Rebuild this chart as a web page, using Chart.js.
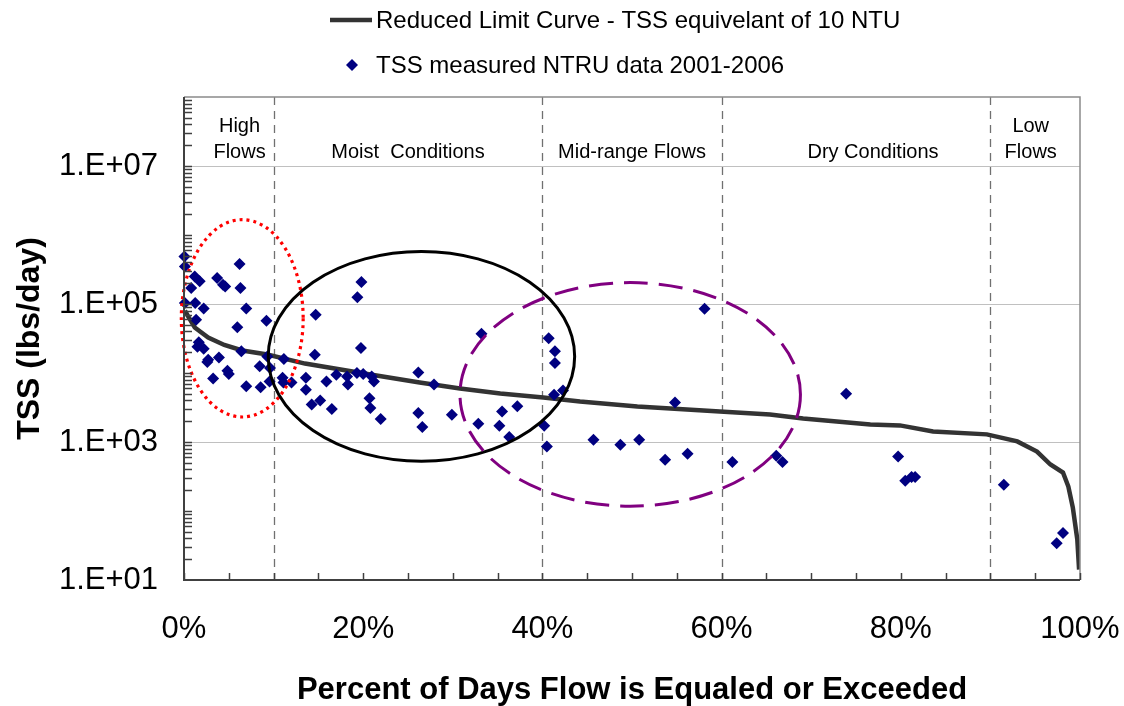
<!DOCTYPE html>
<html>
<head>
<meta charset="utf-8">
<script src="https://cdn.jsdelivr.net/npm/chart.js@4.4.1/dist/chart.umd.min.js"></script>
<style>
  html, body { margin: 0; padding: 0; background: #fff; }
</style>
</head>
<body>
<canvas id="tssChart" width="1124" height="706"></canvas>
<script>
// measured TSS loads (percent of days, lbs/day)
const MEASURED_PCT = [
  0.05, 0.1, 1.2, 1.75, 0.8, 3.7, 4.35, 4.6, 6.2, 6.3,
  0.1, 1.25, 2.2, 6.95, 1.35, 9.2, 5.95, 1.65, 1.5, 2.2,
  2.7, 2.6, 3.9, 6.4, 8.45, 4.85, 5.0, 3.25, 6.95, 8.55,
  9.3, 9.55, 9.6, 11.15, 11.0, 11.1, 12.0, 14.6, 13.6, 13.6,
  15.9, 17.0, 18.2, 18.3, 19.3, 20.0, 20.95, 21.2, 19.75, 14.25,
  15.2, 16.5, 20.7, 20.8, 21.95, 19.8, 19.35, 14.7, 26.15, 26.15,
  26.6, 33.2, 27.9, 29.9, 32.85, 35.5, 35.2, 37.2, 36.3, 40.7,
  41.4, 41.4, 41.3, 42.3, 40.2, 40.5, 58.1, 54.8, 45.7, 48.7,
  50.8, 53.7, 56.2, 61.2, 66.1, 66.8, 73.9, 79.7, 80.5, 81.2,
  81.6, 91.5, 98.1, 97.4
];
const MEASURED_TSS = [
  490000, 350000, 250000, 213000, 171000, 238000, 190000, 180000, 380000, 171000,
  103000, 103000, 86000, 86000, 59000, 57000, 46000, 28000, 24000, 22500,
  15600, 14400, 16800, 20600, 12500, 10800, 9700, 8300, 6400, 6200,
  17400, 7500, 11800, 16000, 8500, 7300, 7300, 18400, 8500, 5700,
  7500, 9400, 8900, 6800, 10000, 9700, 8900, 7500, 23000, 3500,
  4000, 3000, 4300, 3100, 2150, 208000, 125000, 70000, 10200, 2630,
  1650, 37000, 6800, 2490, 1840, 2770, 1720, 3300, 1180, 32000,
  20600, 14000, 4850, 5600, 1720, 863, 85000, 3750, 1080, 914,
  1080, 553, 676, 513, 632, 513, 5000, 618, 275, 311,
  311, 240, 48, 34
];

// reduced limit curve
const CURVE_PCT = [0.1, 0.5, 1.2, 2.7, 4.5, 6.5, 9.3, 13.5, 20.8, 26.3, 30.8, 35.3, 40.1, 44.2, 50.6,
  59.8, 65.4, 69.1, 76.6, 79.9, 83.6, 89.6, 93.0, 95.2, 96.7, 98.1, 98.7, 99.2, 99.7, 99.9];
const CURVE_TSS = [80000, 65000, 45600, 32700, 25500, 21200, 18500, 13700, 9500, 7300, 5960, 5050, 4420, 3860, 3270,
  2770, 2500, 2190, 1800, 1740, 1420, 1290, 1020, 728, 472, 361, 226, 112, 38.6, 14.2];

const X_TICKS = [0, 5, 10, 15, 20, 25, 30, 35, 40, 45, 50, 55, 60, 65, 70, 75, 80, 85, 90, 95, 100];
const X_LABELED = [0, 20, 40, 60, 80, 100];
const Y_TICKS = [1e1, 1e3, 1e5, 1e7];

// flow regimes
const REGION_BOUNDS = [10, 40, 60, 90];
const REGION_NAMES = [['High', 'Flows'], ['Moist  Conditions'], ['Mid-range Flows'], ['Dry Conditions'], ['Low', 'Flows']];
const REGION_CENTERS = [6.2, 25, 50, 76.9, 94.5];

// highlighted groups: centre (pct, lbs/day), half width (pct), half height (decades)
const GROUP_CENTER_PCT = [6.5, 26.5, 49.8];
const GROUP_CENTER_TSS = [62000, 17400, 4900];
const GROUP_HALF_PCT = [6.8, 17.1, 19.0];
const GROUP_HALF_DECADES = [1.43, 1.52, 1.62];

const FONT = "'Liberation Sans', Arial, sans-serif";

const expLabel = v => {
  const e = Math.round(Math.log10(v));
  return '1.E+' + String(e).padStart(2, '0');
};

const decorations = {
  id: 'decorations',
  beforeDraw(chart) {
    const ctx = chart.ctx;
    ctx.save();
    ctx.fillStyle = '#fff';
    ctx.fillRect(0, 0, chart.width, chart.height);
    ctx.restore();
  },
  beforeDatasetsDraw(chart) {
    const {ctx, chartArea: a, scales: {x}} = chart;
    ctx.save();
    // regime boundaries
    ctx.strokeStyle = '#707070';
    ctx.lineWidth = 1.3;
    ctx.setLineDash([8, 6]);
    REGION_BOUNDS.forEach(b => {
      const px = Math.round(x.getPixelForValue(b)) + 0.5;
      ctx.beginPath();
      ctx.moveTo(px, a.top);
      ctx.lineTo(px, a.bottom);
      ctx.stroke();
    });
    ctx.setLineDash([]);
    // regime names
    ctx.fillStyle = '#000';
    ctx.font = '20px ' + FONT;
    ctx.textAlign = 'center';
    ctx.textBaseline = 'middle';
    REGION_NAMES.forEach((lines, i) => {
      const cx = x.getPixelForValue(REGION_CENTERS[i]);
      lines.forEach((t, j) => {
        const ty = 152 - (lines.length - 1 - j) * 26;
        ctx.fillText(t, cx, ty);
      });
    });
    ctx.restore();
  },
  afterDatasetsDraw(chart) {
    const {ctx, chartArea: a, scales: {x, y}} = chart;
    ctx.save();
    // ellipses round the groups
    const styles = [
      {color: '#ff0000', dash: [3, 4], width: 3.2},
      {color: '#000000', dash: [], width: 3},
      {color: '#800080', dash: [24, 11], width: 3}
    ];
    GROUP_CENTER_PCT.forEach((cp, i) => {
      const cx = x.getPixelForValue(cp);
      const cy = y.getPixelForValue(GROUP_CENTER_TSS[i]);
      const rx = x.getPixelForValue(cp + GROUP_HALF_PCT[i]) - cx;
      const ry = cy - y.getPixelForValue(GROUP_CENTER_TSS[i] * Math.pow(10, GROUP_HALF_DECADES[i]));
      ctx.strokeStyle = styles[i].color;
      ctx.lineWidth = styles[i].width;
      ctx.setLineDash(styles[i].dash);
      ctx.beginPath();
      ctx.ellipse(cx, cy, rx, ry, 0, 0, Math.PI * 2);
      ctx.stroke();
    });
    ctx.setLineDash([]);

    // frame
    ctx.strokeStyle = '#8a8a8a';
    ctx.lineWidth = 1.5;
    ctx.beginPath();
    ctx.moveTo(a.left, a.top);
    ctx.lineTo(a.right, a.top);
    ctx.lineTo(a.right, a.bottom);
    ctx.stroke();
    ctx.strokeStyle = '#404040';
    ctx.lineWidth = 2;
    ctx.beginPath();
    ctx.moveTo(a.left, a.top);
    ctx.lineTo(a.left, a.bottom);
    ctx.lineTo(a.right, a.bottom);
    ctx.stroke();

    // inward tick marks
    ctx.lineWidth = 1.5;
    X_TICKS.forEach(v => {
      const px = Math.round(x.getPixelForValue(v)) + 0.5;
      ctx.beginPath();
      ctx.moveTo(px, a.bottom);
      ctx.lineTo(px, a.bottom - 7);
      ctx.stroke();
    });
    for (let d = 1; d < 8; d++) {
      for (let m = 1; m < 10; m++) {
        const v = m * Math.pow(10, d);
        if (v <= y.min || v >= y.max) continue;
        const py = Math.round(y.getPixelForValue(v)) + 0.5;
        ctx.beginPath();
        ctx.moveTo(a.left, py);
        ctx.lineTo(a.left + 8, py);
        ctx.stroke();
      }
    }
    ctx.restore();
  },
  afterDraw(chart) {
    // legend, two rows left aligned
    const ctx = chart.ctx;
    const ds = chart.data.datasets;
    ctx.save();
    ctx.font = '24px ' + FONT;
    ctx.fillStyle = '#000';
    ctx.textAlign = 'left';
    ctx.textBaseline = 'middle';
    // line sample
    ctx.strokeStyle = ds[0].borderColor;
    ctx.lineWidth = 4.5;
    ctx.beginPath();
    ctx.moveTo(330, 20);
    ctx.lineTo(372, 20);
    ctx.stroke();
    ctx.fillText(ds[0].label, 376, 21);
    // marker sample
    ctx.fillStyle = ds[1].backgroundColor;
    ctx.beginPath();
    ctx.moveTo(352, 59);
    ctx.lineTo(358, 65);
    ctx.lineTo(352, 71);
    ctx.lineTo(346, 65);
    ctx.closePath();
    ctx.fill();
    ctx.fillStyle = '#000';
    ctx.fillText(ds[1].label, 376, 66);
    ctx.restore();
  }
};

const curveData = CURVE_PCT.map((p, i) => ({x: p, y: CURVE_TSS[i]}));
const measuredData = MEASURED_PCT.map((p, i) => ({x: p, y: MEASURED_TSS[i]}));

new Chart(document.getElementById('tssChart').getContext('2d'), {
  type: 'scatter',
  data: {
    datasets: [
      {
        label: 'Reduced Limit Curve - TSS equivelant of 10 NTU',
        data: curveData,
        showLine: true,
        borderColor: '#333333',
        borderWidth: 4.5,
        pointRadius: 0,
        tension: 0,
        order: 2
      },
      {
        label: 'TSS measured NTRU data 2001-2006',
        data: measuredData,
        pointStyle: 'rectRot',
        pointRadius: 6,
        backgroundColor: '#000080',
        borderColor: '#000080',
        borderWidth: 0,
        clip: false,
        order: 1
      }
    ]
  },
  options: {
    responsive: false,
    animation: false,
    layout: {padding: {top: 97, right: 44, left: 0, bottom: 0}},
    plugins: {legend: {display: false}, tooltip: {enabled: false}},
    scales: {
      x: {
        type: 'linear',
        min: 0,
        max: 100,
        afterFit: s => {
          s.height = 126;
          s.paddingLeft = 0;
          s.paddingRight = 0;
        },
        afterBuildTicks: s => { s.ticks = X_LABELED.map(v => ({value: v})); },
        ticks: {
          callback: v => v + '%',
          font: {family: FONT, size: 31},
          color: '#000',
          padding: 31,
          maxRotation: 0,
          autoSkip: false
        },
        grid: {display: false, drawTicks: false},
        border: {display: false},
        title: {
          display: true,
          text: 'Percent of Days Flow is Equaled or Exceeded',
          font: {family: FONT, size: 31, weight: 'bold', lineHeight: 1},
          color: '#000',
          padding: 0
        }
      },
      y: {
        type: 'logarithmic',
        min: 10,
        max: 1e8,
        afterFit: s => {
          s.width = 184;
          s.paddingTop = 0;
          s.paddingBottom = 0;
        },
        afterBuildTicks: s => { s.ticks = Y_TICKS.map(v => ({value: v})); },
        ticks: {
          callback: v => expLabel(v),
          font: {family: FONT, size: 31},
          color: '#000',
          padding: 26,
          autoSkip: false
        },
        grid: {
          color: c => (c.tick && c.tick.value > 10 ? '#c0c0c0' : 'rgba(0,0,0,0)'),
          lineWidth: 1,
          drawTicks: false
        },
        border: {display: false},
        title: {
          display: true,
          text: 'TSS (lbs/day)',
          font: {family: FONT, size: 32, weight: 'bold', lineHeight: 1},
          color: '#000',
          padding: {top: 14, bottom: 0}
        }
      }
    }
  },
  plugins: [decorations]
});
</script>
</body>
</html>
